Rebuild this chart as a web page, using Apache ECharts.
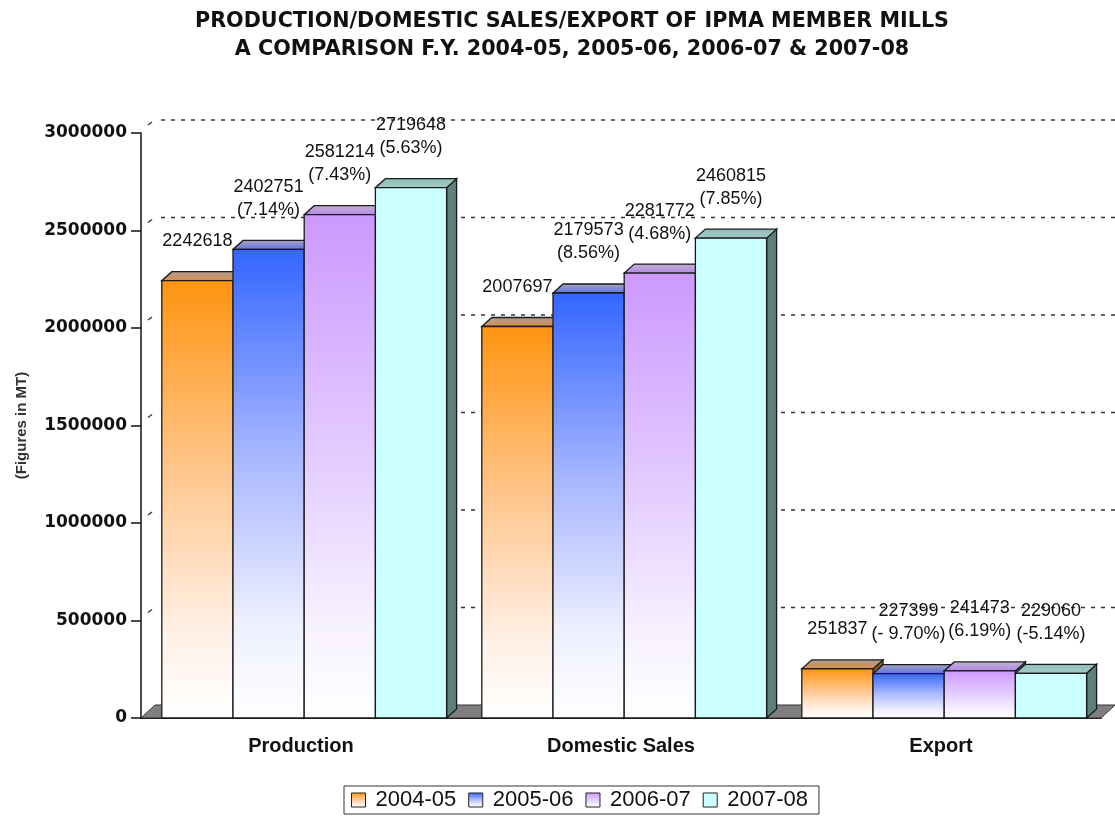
<!DOCTYPE html>
<html>
<head>
<meta charset="utf-8">
<script src="https://cdn.jsdelivr.net/npm/echarts@6/dist/echarts.min.js"></script>
<style>
html, body { margin: 0; padding: 0; background: #fff; }
#main { width: 1115px; height: 819px; }
</style>
</head>
<body>
<div id="main"></div>
<script>
var categories = ['Production', 'Domestic Sales', 'Export'];
var years = ['2004-05', '2005-06', '2006-07', '2007-08'];
var values2004 = [2242618, 2007697, 251837];
var values2005 = [2402751, 2179573, 227399];
var values2006 = [2581214, 2281772, 241473];
var values2007 = [2719648, 2460815, 229060];
var growth2005 = ['(7.14%)', '(8.56%)', '(- 9.70%)'];
var growth2006 = ['(7.43%)', '(4.68%)', '(6.19%)'];
var growth2007 = ['(5.63%)', '(7.85%)', '(-5.14%)'];
var yTicks = [0, 500000, 1000000, 1500000, 2000000, 2500000, 3000000];

var allValues = [values2004, values2005, values2006, values2007];
var allGrowth = [null, growth2005, growth2006, growth2007];

var chart = echarts.init(document.getElementById('main'));
var grad = function (stops) {
    return new echarts.graphic.LinearGradient(0, 0, 0, 1, stops.map(function (s) {
        return {offset: s[0], color: s[1]};
    }));
};

// face colours per year: front, top, side
var barStyles = [
    {front: [[0, '#ff9410'], [0.45, '#ffc890'], [0.8, '#fff0e6'], [1, '#ffffff']], top: [[0, '#aa9c94'], [1, '#dc8e48']], side: '#8c5a1e'},
    {front: [[0, '#3366ff'], [0.45, '#aab8ff'], [0.8, '#eef0ff'], [1, '#ffffff']], top: [[0, '#a8a8c4'], [1, '#5a70e0']], side: '#26408c'},
    {front: [[0, '#cc99ff'], [0.45, '#e2c8ff'], [0.8, '#f6f0ff'], [1, '#ffffff']], top: [[0, '#c0b4cc'], [1, '#b486ee']], side: '#7a5c99'},
    {front: [[0, '#ccffff'], [1, '#ccffff']], top: [[0, '#8fbcb8'], [1, '#a4ccc8']], side: '#5f7f7b'}
];

var DX = 10, DY = 9;      // bar depth
var WX = 14, WY = 13;     // wall / floor depth
var GROUP_START = 0.065, GROUP_WIDTH = 0.89;
var EDGE = '#1a1a1a';

function barRect(api, cat, val, s) {
    var base = api.coord([cat, 0]);
    var top = api.coord([cat, val]);
    var band = api.size([1, 0])[0];
    var w = band * GROUP_WIDTH / years.length;
    var x0 = base[0] - band / 2 + band * GROUP_START + s * w;
    return {x0: x0, x1: x0 + w, y0: top[1], y1: base[1]};
}

function renderBar(params, api) {
    var s = params.seriesIndex;
    var r = barRect(api, api.value(0), api.value(1), s);
    var st = barStyles[s];
    var base = s * 3;
    return {
        type: 'group',
        children: [
            {type: 'polygon', z2: base, shape: {points: [[r.x1, r.y0], [r.x1 + DX, r.y0 - DY], [r.x1 + DX, r.y1 - DY], [r.x1, r.y1]]},
                style: {fill: st.side, stroke: EDGE, lineWidth: 1.3}},
            {type: 'polygon', z2: base + 1, shape: {points: [[r.x0, r.y0], [r.x1, r.y0], [r.x1 + DX, r.y0 - DY], [r.x0 + DX, r.y0 - DY]]},
                style: {fill: grad(st.top), stroke: EDGE, lineWidth: 1.3}},
            {type: 'rect', z2: base + 2, shape: {x: r.x0, y: r.y0, width: r.x1 - r.x0, height: r.y1 - r.y0},
                style: {fill: grad(st.front), stroke: EDGE, lineWidth: 1.3}}
        ]
    };
}

function renderWall(params, api) {
    var cs = params.coordSys;
    var v = api.value(1);
    var y = api.coord([0, v])[1];
    var xl = cs.x, xr = cs.x + cs.width;
    if (v === 0) {
        return {type: 'polygon', shape: {points: [[xl, y], [xl + WX, y - WY], [xr + WX, y - WY], [xr, y]]},
            style: {fill: '#7f7f7f', stroke: '#333', lineWidth: 1}};
    }
    return {
        type: 'group',
        children: [
            {type: 'line', shape: {x1: xl + WX + 6, y1: y - WY, x2: xr + WX + 10, y2: y - WY},
                style: {stroke: '#333', lineWidth: 1.4, lineDash: [4, 6]}},
            {type: 'line', shape: {x1: xl + WX - 3, y1: y - WY + 2, x2: xl + WX - 7, y2: y - WY + 5},
                style: {stroke: '#333', lineWidth: 1.4}}
        ]
    };
}

var labelData = [];
allValues.forEach(function (vals, s) {
    vals.forEach(function (v, c) {
        var g = allGrowth[s];
        labelData.push([c, s, v, g ? v + '\n' + g[c] : String(v)]);
    });
});

function renderLabel(params, api) {
    var d = labelData[params.dataIndex];
    var r = barRect(api, d[0], d[2], d[1]);
    return {
        type: 'text', z2: 100,
        x: (r.x0 + r.x1) / 2, y: r.y0 - 28,
        style: {text: d[3], fill: '#111', fontSize: 18, fontFamily: '"Liberation Sans", Arial, sans-serif',
            align: 'center', verticalAlign: 'bottom', lineHeight: 23}
    };
}

var series = years.map(function (y, s) {
    return {
        name: y, type: 'custom', z: 3,
        itemStyle: {color: grad(barStyles[s].front)},
        renderItem: renderBar,
        encode: {x: 0, y: 1},
        data: allValues[s].map(function (v, c) { return [c, v]; })
    };
});
series.push({
    type: 'custom', z: 1, silent: true,
    renderItem: renderWall,
    encode: {x: 0, y: 1},
    data: yTicks.map(function (t) { return [0, t]; })
});
series.push({
    type: 'custom', z: 5, silent: true,
    renderItem: renderLabel,
    encode: {x: 0, y: 2},
    data: labelData.map(function (d) { return [d[0], d[1], d[2]]; })
});

var option = {
    animation: false,
    backgroundColor: '#fff',
    title: {
        text: 'PRODUCTION/DOMESTIC SALES/EXPORT OF IPMA MEMBER MILLS\nA COMPARISON F.Y. 2004-05, 2005-06, 2006-07 & 2007-08',
        left: 567, top: 3, textAlign: 'center',
        textStyle: {fontFamily: '"DejaVu Sans", sans-serif', fontWeight: 'bold', fontSize: 20.7, lineHeight: 28, color: '#111'}
    },
    legend: {
        data: years.map(function (y, s) {
            return {name: y, icon: 'rect', itemStyle: {color: grad(barStyles[s].front), borderColor: '#222', borderWidth: 1}};
        }),
        left: 344, top: 786, itemWidth: 14, itemHeight: 14, itemGap: 12,
        padding: [3, 11, 3, 7], borderColor: '#333', borderWidth: 1,
        textStyle: {fontSize: 22, fontFamily: '"Liberation Sans", Arial, sans-serif', color: '#111', padding: [0, 0, 0, 5]}
    },
    grid: {left: 141, right: 14, top: 133, bottom: 101},
    xAxis: {
        type: 'category', data: categories,
        axisLine: {lineStyle: {color: '#111', width: 2}},
        axisTick: {length: 10, lineStyle: {color: '#111', width: 1.5}},
        axisLabel: {margin: 18, fontWeight: 'bold', fontSize: 20, color: '#111', fontFamily: '"Liberation Sans", Arial, sans-serif'},
        splitLine: {show: false}
    },
    yAxis: {
        type: 'value', min: yTicks[0], max: yTicks[yTicks.length - 1], interval: yTicks[1] - yTicks[0],
        axisLine: {show: true, lineStyle: {color: '#111', width: 1.5}},
        axisTick: {show: true, length: 10, lineStyle: {color: '#111', width: 1.5}},
        splitLine: {show: false},
        axisLabel: {margin: 14, color: '#111', fontWeight: 'bold', fontSize: 17, fontFamily: '"DejaVu Sans", sans-serif',
            formatter: function (v) { return String(v); }},
        name: '(Figures in MT)', nameLocation: 'middle', nameRotate: 90, nameGap: 112,
        nameTextStyle: {fontSize: 15, fontWeight: 'bold', color: '#333', fontFamily: '"Liberation Sans", Arial, sans-serif'}
    },
    series: series
};
chart.setOption(option);
</script>
</body>
</html>
